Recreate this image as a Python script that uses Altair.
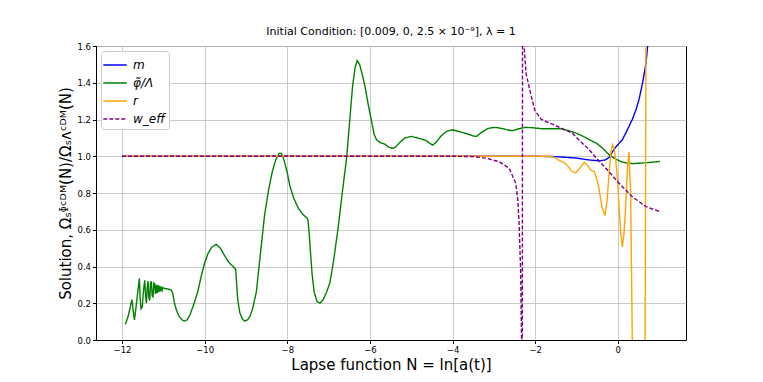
import altair as alt
import pandas as pd

# ---- data ----
series_names = ["m", "φ̃/Λ", "r", "w_eff"]
series_colors = ["blue", "green", "orange", "purple"]

m_N = [-12.0, -2.0, -1.5, -1.0, -0.7, -0.45, -0.3, -0.2, -0.13, -0.05, 0.03, 0.11, 0.2, 0.35, 0.45, 0.52, 0.6, 0.68, 0.72, 0.78]
m_v = [1.0, 1.0, 0.998, 0.99, 0.98, 0.975, 0.98, 0.995, 1.024, 1.05, 1.07, 1.09, 1.13, 1.2, 1.26, 1.316, 1.40, 1.505, 1.595, 1.72]

phi_N = [-11.92, -11.85, -11.79, -11.76, -11.73, -11.70, -11.66, -11.62, -11.58, -11.56,
         -11.54, -11.51, -11.48, -11.45, -11.43, -11.41, -11.39, -11.37, -11.35, -11.33,
         -11.31, -11.29, -11.27, -11.25, -11.23, -11.21, -11.19, -11.17, -11.15, -11.13,
         -11.11, -11.09, -11.07, -11.05, -11.03, -11.01, -10.98,
         -10.95, -10.90, -10.85, -10.80, -10.77, -10.73, -10.68, -10.62,
         -10.55, -10.49, -10.42, -10.35, -10.27, -10.17, -10.08, -10.00, -9.92, -9.83,
         -9.72, -9.62, -9.52, -9.44, -9.36, -9.30, -9.25, -9.23, -9.20, -9.15,
         -9.09, -9.03, -8.96, -8.90, -8.84, -8.75, -8.66, -8.55, -8.45, -8.36,
         -8.28, -8.20, -8.14, -8.08, -8.00, -7.94, -7.84, -7.74, -7.63, -7.53,
         -7.50, -7.47, -7.44, -7.40, -7.35, -7.28, -7.21, -7.13, -7.05, -6.97,
         -6.88, -6.77, -6.67, -6.56, -6.48, -6.42, -6.36, -6.31, -6.25, -6.18,
         -6.12, -6.04, -5.96, -5.90, -5.84, -5.76, -5.64, -5.55, -5.45, -5.38,
         -5.28, -5.15, -5.00, -4.85, -4.70, -4.63, -4.55, -4.48, -4.40, -4.28,
         -4.15, -4.00, -3.85, -3.70, -3.63, -3.50, -3.42, -3.30, -3.15, -3.02,
         -2.90, -2.75, -2.60, -2.54, -2.42, -2.25, -2.05, -1.85, -1.60, -1.40,
         -1.20, -1.00, -0.85, -0.69, -0.51, -0.35, -0.20, -0.05, 0.10, 0.25,
         0.36, 0.50, 0.70, 0.85, 1.02]
phi_v = [0.085, 0.13, 0.19, 0.22, 0.16, 0.11, 0.18, 0.26, 0.335, 0.22,
         0.17, 0.18, 0.27, 0.325, 0.24, 0.20, 0.28, 0.32, 0.23, 0.215,
         0.31, 0.32, 0.24, 0.235, 0.31, 0.305, 0.25, 0.30, 0.255, 0.30,
         0.26, 0.295, 0.265, 0.29, 0.27, 0.285, 0.28,
         0.28, 0.278, 0.275, 0.27, 0.25, 0.20, 0.16, 0.13,
         0.11, 0.103, 0.11, 0.14, 0.19, 0.26, 0.35, 0.42, 0.47, 0.505,
         0.52, 0.50, 0.46, 0.43, 0.41, 0.397, 0.385, 0.32, 0.22, 0.15,
         0.115, 0.103, 0.11, 0.13, 0.17, 0.26, 0.45, 0.68, 0.82, 0.92,
         0.98, 1.015, 1.016, 0.98, 0.91, 0.84, 0.77, 0.72, 0.685, 0.665,
         0.655, 0.58, 0.48, 0.36, 0.26, 0.21, 0.20, 0.22, 0.26, 0.31,
         0.43, 0.61, 0.80, 1.00, 1.22, 1.38, 1.48, 1.52, 1.50, 1.44,
         1.38, 1.28, 1.19, 1.12, 1.09, 1.075, 1.066, 1.05, 1.043, 1.05,
         1.075, 1.10, 1.108, 1.10, 1.09, 1.085, 1.07, 1.061, 1.075, 1.11,
         1.135, 1.144, 1.135, 1.125, 1.121, 1.11, 1.108, 1.13, 1.15, 1.157,
         1.155, 1.148, 1.14, 1.14, 1.148, 1.157, 1.155, 1.15, 1.15, 1.15,
         1.14, 1.125, 1.11, 1.09, 1.07, 1.04, 1.005, 0.985, 0.968, 0.962,
         0.96, 0.962, 0.965, 0.968, 0.972]

r_N = [-12.0, -1.70, -1.55, -1.42, -1.30, -1.22, -1.12, -1.02, -0.92, -0.81,
       -0.73, -0.65, -0.57, -0.50, -0.45, -0.38, -0.31, -0.26, -0.21, -0.16,
       -0.13, -0.09, -0.05, 0.00, 0.03, 0.07, 0.11, 0.15, 0.19, 0.23,
       0.27, 0.31, 0.35, 0.38, 0.50, 0.62, 0.66, 0.68, 0.70]
r_v = [1.0, 1.0, 0.995, 0.978, 0.965, 0.95, 0.92, 0.91, 0.935, 0.967,
       0.95, 0.923, 0.918, 0.87, 0.815, 0.72, 0.677, 0.76, 0.91, 1.03,
       1.063, 1.04, 0.98, 0.85, 0.727, 0.58, 0.506, 0.58, 0.727, 0.92,
       1.024, 0.80, 0.0, -1.0, -3.0, -1.0, 0.0, 1.6, 3.0]

w_N = [-12.0, -4.0, -3.5, -3.2, -2.87, -2.63, -2.47, -2.42, -2.39, -2.35,
       -2.33, -2.32, -2.30, -2.27, -2.22, -2.13, -2.01, -1.85, -1.50, -1.10,
       -0.90, -0.69, -0.50, -0.29, 0.03, 0.35, 0.68, 1.00]
w_v = [1.0, 1.0, 0.998, 0.99, 0.97, 0.935, 0.853, 0.76, 0.636, 0.36,
       0.0, -3.0, 4.0, 1.6, 1.45, 1.36, 1.25, 1.20, 1.166, 1.125,
       1.08, 1.035, 0.985, 0.935, 0.853, 0.78, 0.726, 0.70]

x_ticks = [-12, -10, -8, -6, -4, -2, 0]
y_ticks = [0.0, 0.2, 0.4, 0.6, 0.8, 1.0, 1.2, 1.4, 1.6]

rows = []
for name, Ns, vs in zip(series_names, [m_N, phi_N, r_N, w_N], [m_v, phi_v, r_v, w_v]):
    for n, v in zip(Ns, vs):
        rows.append({"series": name, "N": n, "value": v})
df = pd.DataFrame(rows)
df["order"] = range(len(df))

FONT = "DejaVu Sans"

legend = alt.Legend(
    title=None, orient="top-left", offset=5, padding=4,
    fillColor="white", strokeColor="#cccccc", cornerRadius=3,
    labelFont=FONT, labelFontStyle="italic", labelFontSize=12, labelColor="black",
    labelOffset=8, symbolType="M-1.3,0H1.3", symbolSize=324, symbolStrokeWidth=1.5,
    rowPadding=2,
)

chart = alt.Chart(df).mark_line(strokeWidth=1.4, clip=True).encode(
    x=alt.X("N:Q",
            scale=alt.Scale(domain=[-12.63, 1.65], nice=False, zero=False),
            axis=alt.Axis(values=x_ticks, format="d",
                          title="Lapse function N = ln[a(t)]")),
    y=alt.Y("value:Q",
            scale=alt.Scale(domain=[0, 1.6], nice=False, zero=False),
            axis=alt.Axis(values=y_ticks, format=".1f",
                          title="Solution, Ωₛᶲᶜᴰᴹ(N)/Ωₛᴧᶜᴰᴹ(N)")),
    color=alt.Color("series:N",
                    scale=alt.Scale(domain=series_names, range=series_colors),
                    sort=series_names, legend=legend),
    strokeDash=alt.StrokeDash("series:N",
                              scale=alt.Scale(domain=series_names,
                                              range=[[1, 0], [1, 0], [1, 0], [4, 2]]),
                              sort=series_names, legend=legend),
    order="order:Q",
).properties(
    width=590, height=294,
    title=alt.TitleParams(
        text="Initial Condition: [0.009, 0, 2.5 × 10⁻⁹], λ = 1",
        font=FONT, fontSize=11, fontWeight="normal", color="black", offset=5,
    ),
    autosize=alt.AutoSizeParams(type="none"),
    padding={"left": 88, "top": 38, "right": 60, "bottom": 34},
).configure_view(
    stroke="black", strokeWidth=1,
).configure_axis(
    labelFont=FONT, labelFontSize=8.5, labelColor="black",
    titleFont=FONT, titleFontSize=15, titleFontWeight="normal", titleColor="black",
    grid=True, gridColor="#c4c4c4", gridWidth=0.9,
    domainColor="black", domainWidth=1, tickColor="black", tickSize=3.5,
    labelPadding=2, titlePadding=3,
)

chart.save("out.html", embed_options={"renderer": "svg", "actions": False})
